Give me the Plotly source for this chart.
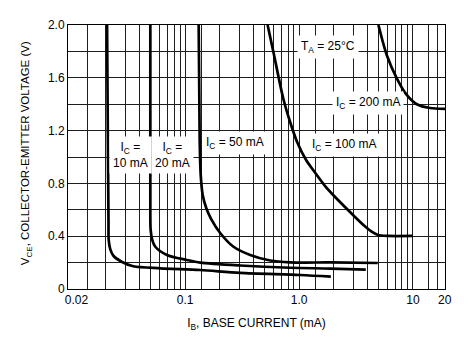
import math
import plotly.graph_objects as go

# ---------------- data ----------------
ic_labels = ["I<sub>C</sub> =<br>10 mA", "I<sub>C</sub> =<br>20 mA", "I<sub>C</sub> = 50 mA",
             "I<sub>C</sub> = 100 mA", "I<sub>C</sub> = 200 mA"]

ib_10 = [0.0206, 0.0209, 0.0212, 0.0213, 0.0220, 0.0235, 0.0279, 0.035, 0.0604, 0.1355, 0.303, 1.02, 1.9]
vce_10 = [2.0, 1.2, 0.52, 0.37, 0.30, 0.25, 0.205, 0.172, 0.157, 0.144, 0.122, 0.106, 0.093]

ib_20 = [0.0494, 0.0494, 0.0497, 0.0514, 0.0546, 0.069, 0.1035, 0.1355, 0.303, 0.834, 1.87, 3.85]
vce_20 = [2.0, 0.67, 0.45, 0.37, 0.32, 0.258, 0.22, 0.2, 0.178, 0.161, 0.155, 0.147]

ib_50 = [0.1313, 0.1340, 0.1368, 0.1424, 0.1529, 0.1691, 0.2028, 0.2637, 0.3718, 0.5567, 0.834, 1.87, 4.9]
vce_50 = [2.0, 1.129, 0.864, 0.712, 0.614, 0.530, 0.424, 0.322, 0.258, 0.216, 0.202, 0.201, 0.197]

ib_100 = [0.529, 0.5974, 0.724, 0.834, 0.9605, 1.152, 1.327, 1.691, 2.198, 2.917, 3.717, 4.369, 4.93, 6.036, 9.93]
vce_100 = [2.0, 1.788, 1.447, 1.265, 1.114, 0.977, 0.902, 0.780, 0.674, 0.568, 0.481, 0.432, 0.409, 0.402, 0.402]

ib_200 = [4.97, 5.88, 7.19, 8.81, 10.8, 14.1, 19.1]
vce_200 = [2.0, 1.773, 1.598, 1.47, 1.40, 1.371, 1.364]

# axis ticks
x_tickvals = [0.0111, 0.1, 1.0, 10.0, 19.0]
x_ticktext = ["0.02", "0.1", "1.0", "10", "20"]
y_tickvals = [0, 0.4, 0.8, 1.2, 1.6, 2.0]
y_ticktext = ["0", "0.4", "0.8", "1.2", "1.6", "2.0"]
x_gridvals = ([0.014, 0.02, 0.03, 0.04, 0.05, 0.06, 0.07, 0.08, 0.09,
               0.1, 0.14, 0.2, 0.3, 0.4, 0.5, 0.6, 0.7, 0.8, 0.9,
               1.0, 1.4, 2, 3, 4, 5, 6, 7, 8, 9, 10, 13.7, 16.5])

# label positions (log10 of IB, VCE)
label_pos = [(-1.482, 1.015), (-1.114, 1.015), (-0.564, 1.104), (0.395, 1.091), (0.608, 1.407)]
ta_text = "T<sub>A</sub> = 25°C"
ta_pos = (0.254, 1.831)
x_title = "I<sub>B</sub>, BASE CURRENT (mA)"
y_title = "V<sub>CE</sub>, COLLECTOR-EMITTER VOLTAGE (V)"

FONT = "Liberation Sans, Arial, sans-serif"

fig = go.Figure()
for xs, ys in [(ib_10, vce_10), (ib_20, vce_20), (ib_50, vce_50), (ib_100, vce_100), (ib_200, vce_200)]:
    fig.add_trace(go.Scatter(x=xs, y=ys, mode="lines",
                             line=dict(color="black", width=2.7, shape="spline", smoothing=0.8),
                             showlegend=False, hoverinfo="skip"))

for txt, (lx, ly) in zip(ic_labels, label_pos):
    fig.add_annotation(x=lx, y=ly, xref="x", yref="y", text=txt, showarrow=False,
                       bgcolor="white", borderpad=3, font=dict(size=12, color="black", family=FONT))
fig.add_annotation(x=ta_pos[0], y=ta_pos[1], xref="x", yref="y", text=ta_text, showarrow=False,
                   bgcolor="white", borderpad=3, font=dict(size=12, color="black", family=FONT))

# y-axis title as rotated annotation
fig.add_annotation(x=-0.111, y=0.515, xref="paper", yref="paper", text=y_title, showarrow=False,
                   textangle=-90, xanchor="center", yanchor="middle",
                   font=dict(size=11.5, color="black", family=FONT))

grid_col = "#1e1e1e"
fig.update_xaxes(type="log", range=[math.log10(0.00935), math.log10(19.1)],
                 tickmode="array", tickvals=x_tickvals, ticktext=x_ticktext,
                 showgrid=False, zeroline=False, ticks="",
                 minor=dict(tickmode="array", tickvals=x_gridvals, showgrid=True,
                            gridcolor=grid_col, gridwidth=1, ticks=""),
                 showline=True, mirror=True, linecolor="black", linewidth=1,
                 tickfont=dict(size=12, color="black", family=FONT),
                 title=dict(text=x_title, standoff=12,
                            font=dict(size=12, color="black", family=FONT)))
fig.update_yaxes(range=[0, 2.0], tickmode="array", tickvals=y_tickvals, ticktext=y_ticktext,
                 showgrid=True, gridcolor=grid_col, gridwidth=1, zeroline=False, ticks="",
                 minor=dict(dtick=0.2, showgrid=True, gridcolor=grid_col, gridwidth=1, ticks=""),
                 showline=True, mirror=True, linecolor="black", linewidth=1,
                 tickfont=dict(size=12, color="black", family=FONT))

fig.update_layout(width=469, height=345, margin=dict(l=68, r=24, t=25, b=56),
                  paper_bgcolor="white", plot_bgcolor="white",
                  font=dict(family=FONT, color="black"))

fig.write_html("out.html")
